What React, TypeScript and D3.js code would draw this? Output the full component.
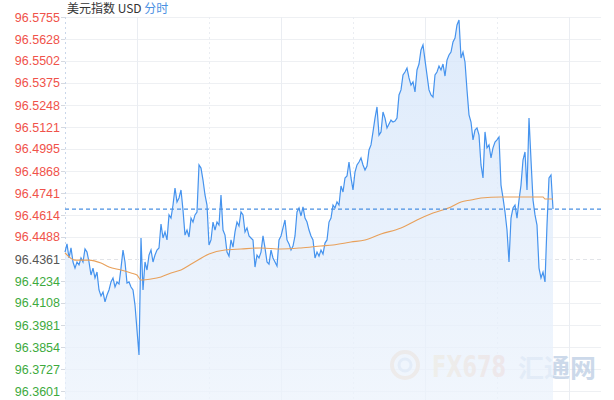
import React from "react";
import * as d3 from "d3";

const yTicks = [
  96.5755, 96.5628, 96.5502, 96.5375, 96.5248, 96.5121, 96.4995, 96.4868, 96.4741,
  96.4614, 96.4488, 96.4361, 96.4234, 96.4108, 96.3981, 96.3854, 96.3727, 96.3601,
];
const prevClose = 96.4361;
const lastPrice = 96.4649;
const totalSlots = 268;
const gridEvery = 36;

const prices = [
  96.4401, 96.4448, 96.4367, 96.4425, 96.4344, 96.4309, 96.4344, 96.4327, 96.4367, 96.4344,
  96.4419, 96.4401, 96.4344, 96.4269, 96.4309, 96.4252, 96.4286, 96.4183, 96.4148, 96.4171,
  96.4114, 96.4154, 96.4183, 96.4229, 96.4252, 96.4200, 96.4229, 96.4217, 96.4309, 96.4413,
  96.4344, 96.4223, 96.4229, 96.4200, 96.4183, 96.4096, 96.3952, 96.3808, 96.4482, 96.4183,
  96.4344, 96.4298, 96.4384, 96.4413, 96.4344, 96.4384, 96.4413, 96.4425, 96.4563, 96.4482,
  96.4517, 96.4471, 96.4615, 96.4597, 96.4672, 96.4770, 96.4690, 96.4713, 96.4759, 96.4643,
  96.4499, 96.4528, 96.4488, 96.4597, 96.4574, 96.4615, 96.4632, 96.4903, 96.4885, 96.4816,
  96.4730, 96.4672, 96.4442, 96.4471, 96.4574, 96.4528, 96.4574, 96.4557, 96.4730, 96.4528,
  96.4499, 96.4401, 96.4378, 96.4471, 96.4430, 96.4517, 96.4574, 96.4551, 96.4632, 96.4615,
  96.4517, 96.4540, 96.4494, 96.4482, 96.4471, 96.4315, 96.4384, 96.4367, 96.4401, 96.4494,
  96.4425, 96.4344, 96.4332, 96.4413, 96.4367, 96.4344, 96.4321, 96.4471, 96.4494, 96.4540,
  96.4586, 96.4471, 96.4448, 96.4413, 96.4436, 96.4494, 96.4632, 96.4655, 96.4609, 96.4661,
  96.4597, 96.4574, 96.4528, 96.4494, 96.4471, 96.4367, 96.4401, 96.4378, 96.4413, 96.4390,
  96.4453, 96.4471, 96.4574, 96.4597, 96.4672, 96.4655, 96.4690, 96.4672, 96.4782, 96.4747,
  96.4828, 96.4839, 96.4920, 96.4828, 96.4759, 96.4862, 96.4903, 96.4920, 96.4943, 96.4903,
  96.4874, 96.4897, 96.4989, 96.5018, 96.5093, 96.5173, 96.5237, 96.5075, 96.5093, 96.5208,
  96.5173, 96.5116, 96.5139, 96.5162, 96.5150, 96.5156, 96.5173, 96.5306, 96.5335, 96.5421,
  96.5438, 96.5461, 96.5404, 96.5363, 96.5381, 96.5323, 96.5450, 96.5484, 96.5565, 96.5594,
  96.5507, 96.5421, 96.5335, 96.5306, 96.5294, 96.5421, 96.5438, 96.5473, 96.5450, 96.5484,
  96.5415, 96.5507, 96.5536, 96.5553, 96.5611, 96.5634, 96.5709, 96.5738, 96.5519, 96.5553,
  96.5496, 96.5335, 96.5191, 96.5150, 96.5047, 96.5104, 96.5116, 96.5075, 96.4903, 96.4828,
  96.5093, 96.5001, 96.5018, 96.4943, 96.5001, 96.5035, 96.5047, 96.5064, 96.4787, 96.4713,
  96.4632, 96.4528, 96.4344, 96.4597, 96.4655, 96.4672, 96.4597, 96.4701, 96.4787, 96.4931,
  96.4978, 96.4759, 96.5173, 96.4931, 96.4701, 96.4615, 96.4557, 96.4309, 96.4252, 96.4286,
  96.4229, 96.4557, 96.4828, 96.4845, 96.4649,
];

const avgIdx = [0, 5, 12, 18, 22, 28, 33, 36, 38, 43, 48, 53, 58, 64, 72, 80, 88, 98, 108, 118,
  128, 134, 143, 150, 158, 168, 176, 184, 193, 198, 203, 208, 218, 228, 239, 240, 244];
const avgVals = [96.4396, 96.4355, 96.4355, 96.4338, 96.4315, 96.4298, 96.4281, 96.4269, 96.4240,
  96.4246, 96.4258, 96.4281, 96.4298, 96.4338, 96.4390, 96.4413, 96.4419, 96.4425, 96.4419, 96.4425,
  96.4436, 96.4442, 96.4459, 96.4471, 96.4505, 96.4540, 96.4586, 96.4626, 96.4661, 96.4690, 96.4701,
  96.4713, 96.4718, 96.4718, 96.4718, 96.4707, 96.4707];

const W = 614;
const H = 400;
const left = 65;
const right = 601;
const top = 17;
const bottom = 391;
const plotBottom = 400;

export default function App() {
  const x = d3.scaleLinear().domain([0, totalSlots]).range([left, right]);
  const y = d3.scaleLinear().domain([yTicks[yTicks.length - 1], yTicks[0]]).range([bottom, top]);

  const pts = prices.map((v, i) => [i, v] as [number, number]);
  const line = d3.line<[number, number]>().x((d) => x(d[0])).y((d) => y(d[1]));
  const area = d3
    .area<[number, number]>()
    .x((d) => x(d[0]))
    .y0(plotBottom)
    .y1((d) => y(d[1]));
  const avgPts = avgIdx.map((i, k) => [i, avgVals[k]] as [number, number]);
  const avgLine = d3
    .line<[number, number]>()
    .x((d) => x(d[0]))
    .y((d) => y(d[1]))
    .curve(d3.curveMonotoneX);

  const vLines = d3.range(0, totalSlots, gridEvery);

  const labelColor = (v: number) =>
    Math.abs(v - prevClose) < 1e-6 ? "#555555" : v > prevClose ? "#f0524a" : "#3daa3d";

  return (
    <svg
      width={W}
      height={H}
      style={{ position: "absolute", left: 0, top: 0, background: "#fff" }}
      fontFamily="'Liberation Sans', Arial, sans-serif"
    >
      <defs>
        <linearGradient id="fillg" x1="0" y1="0" x2="0" y2="1">
          <stop offset="0%" stopColor="#d3e4fa" />
          <stop offset="100%" stopColor="#ecf3fc" />
        </linearGradient>
        <linearGradient id="wmg" x1="0" y1="0" x2="1" y2="0">
          <stop offset="0%" stopColor="#f9dca0" />
          <stop offset="100%" stopColor="#f6b3a0" />
        </linearGradient>
      </defs>

      {/* horizontal grid */}
      {yTicks.map((t) => (
        <line
          key={t}
          x1={left}
          x2={right}
          y1={Math.round(y(t)) + 0.5}
          y2={Math.round(y(t)) + 0.5}
          stroke={Math.abs(t - prevClose) < 1e-6 ? "#e2e4e8" : "#eef0f3"}
          strokeDasharray={Math.abs(t - prevClose) < 1e-6 ? "4,3" : undefined}
        />
      ))}
      {/* vertical grid */}
      {vLines.map((i, k) => (
        <line
          key={i}
          x1={Math.round(x(i)) + 0.5}
          x2={Math.round(x(i)) + 0.5}
          y1={top}
          y2={plotBottom}
          stroke={k === 0 ? "#c9d6ea" : "#eaedf2"}
          strokeDasharray={k % 2 === 0 ? "2,3" : undefined}
        />
      ))}

      {/* watermark */}
      <g opacity={0.75}>
        <circle cx={405} cy={365} r={13} fill="none" stroke="#f3c9a0" strokeWidth={4} />
        <circle cx={405} cy={365} r={6} fill="none" stroke="#bfd0e6" strokeWidth={3} />
        <g transform="translate(432,377) scale(1,1.2)">
          <text x={0} y={0} fontSize={25} fontWeight="bold" fill="url(#wmg)" textLength={74} lengthAdjust="spacingAndGlyphs" fontFamily="'DejaVu Sans Condensed', 'Liberation Sans', sans-serif">
            FX678
          </text>
        </g>
        <text x={518} y={377} fontSize={25} fontWeight="bold" fill="#bccde4" textLength={78} lengthAdjust="spacingAndGlyphs" fontFamily="'Noto Sans CJK SC', sans-serif">
          汇通网
        </text>
      </g>

      {/* area + line */}
      <path d={area(pts) || ""} fill="url(#fillg)" opacity={0.75} />
      <path d={line(pts) || ""} fill="none" stroke="#4593ee" strokeWidth={1.2} />
      <path d={avgLine(avgPts) || ""} fill="none" stroke="#e8a05a" strokeWidth={1.1} />

      {/* last price dashed line */}
      <line
        x1={left}
        x2={right}
        y1={y(lastPrice)}
        y2={y(lastPrice)}
        stroke="#4a90e2"
        strokeWidth={1.3}
        strokeDasharray="4,3"
      />

      {/* y labels */}
      {yTicks.map((t) => (
        <g key={"l" + t}>
          <line x1={61} x2={65} y1={Math.round(y(t)) + 0.5} y2={Math.round(y(t)) + 0.5} stroke="#d5d9e0" />
          <text x={60} y={y(t) + 4.5} textAnchor="end" fontSize={12.5} fill={labelColor(t)}>
            {t.toFixed(4)}
          </text>
        </g>
      ))}

      {/* title */}
      <text x={67} y={13} fontSize={12} fontFamily="'Noto Sans CJK SC', sans-serif" fill="#333">
        美元指数 USD <tspan fill="#4a90e2">分时</tspan>
      </text>
    </svg>
  );
}
